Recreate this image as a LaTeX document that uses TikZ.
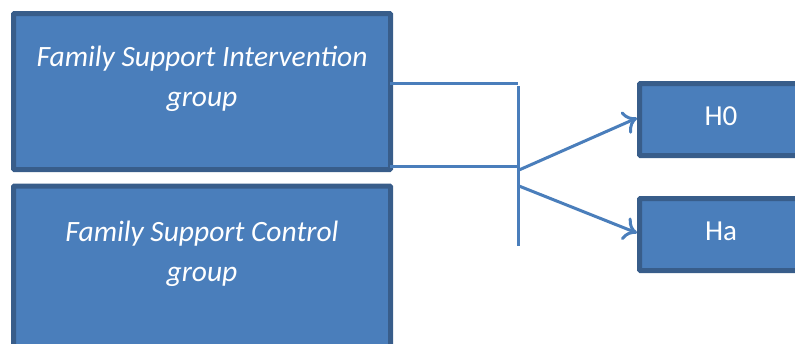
\documentclass[tikz,border=0pt]{standalone}
\usepackage{fontspec}
\setmainfont{Carlito}
\usetikzlibrary{arrows.meta}
\definecolor{boxfill}{HTML}{4A7EBB}
\definecolor{boxline}{HTML}{385D8A}
\definecolor{conn}{HTML}{4A7EBB}
\begin{document}
\begin{tikzpicture}[x=1pt,y=-1pt,
  grpbox/.style={draw=boxline,fill=boxfill,line width=5pt,rounded corners=1pt},
  grptext/.style={text=white,font=\fontsize{29.5}{40}\selectfont\itshape,align=center},
  hyptext/.style={text=white,font=\fontsize{29}{32}\selectfont},
  conline/.style={draw=conn,line width=3pt},
  arr/.style={conline,-{To[length=13pt,width=24pt,line width=3pt]}}]
\useasboundingbox (0,0) rectangle (795,343);
\clip (0,0) rectangle (795,343);
% boxes
\draw[grpbox] (13.5,13.5) rectangle (390.5,169.5);
\draw[grpbox] (13.5,186) rectangle (390.5,360);
\draw[grpbox] (639.5,83.5) rectangle (810,155.5);
\draw[grpbox] (639.5,198.5) rectangle (810,270.5);
\node[grptext] (fsi) at (202,79) {Family Support Intervention\\group};
\node[grptext] (fsc) at (202,254) {Family Support Control\\group};
\node[hyptext] (h0) at (721,116) {H0};
\node[hyptext] (ha) at (721,231) {Ha};
% named anchors
\coordinate (b1t) at (390,83);
\coordinate (b1b) at (390,166);
\coordinate (bt) at (518,83);
\coordinate (bb) at (518,166);
\coordinate (vtop) at (518,86);
\coordinate (vbot) at (518,246);
\coordinate (s1) at (519,170);
\coordinate (s2) at (519,186);
\coordinate (e1) at (637,118);
\coordinate (e2) at (637,233);
\draw[conline] (b1t) -- (bt);
\draw[conline] (b1b) -- (bb);
\draw[conline] (vtop) -- (vbot);
\draw[arr] (s1) -- (e1);
\draw[arr] (s2) -- (e2);
\end{tikzpicture}
\end{document}
